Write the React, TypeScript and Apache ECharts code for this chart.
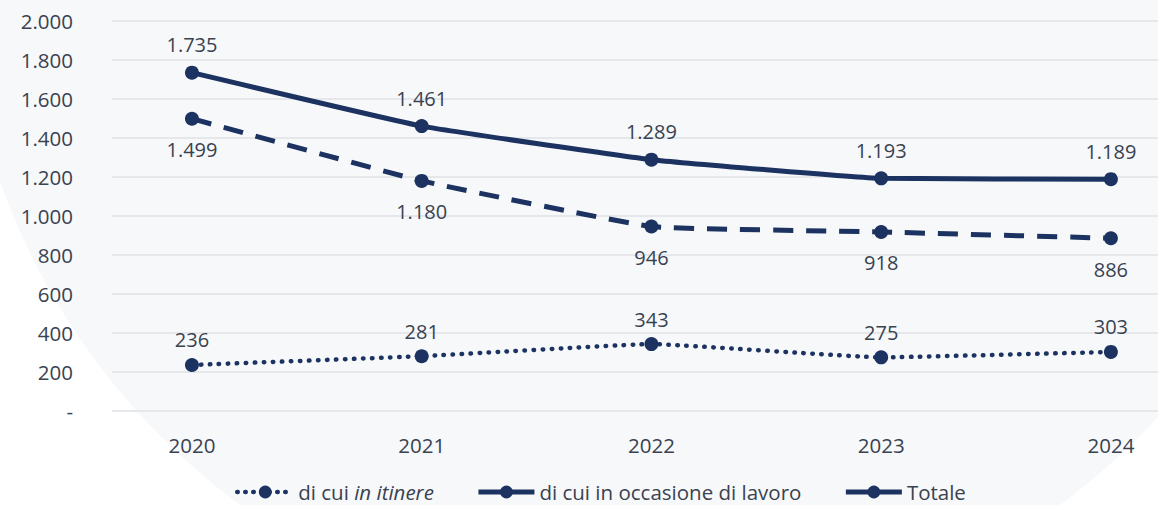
import React, { useEffect, useRef } from "react";
import * as echarts from "echarts";

const years = [2020, 2021, 2022, 2023, 2024];
const totale = [1735, 1461, 1289, 1193, 1189];
const lavoro = [1499, 1180, 946, 918, 886];
const itinere = [236, 281, 343, 275, 303];
const yTicks = { min: 0, max: 2000, interval: 200 };

const NAVY = "#1c3260";
const TEXT = "#394250";
const FONT = "'Open Sans', 'Noto Sans', sans-serif";
const FW = 500;

const fmt = (v: number) =>
  v === 0 ? "-" : String(Math.round(v)).replace(/\B(?=(\d{3})+(?!\d))/g, ".");

const pairs = (vals: number[]) => years.map((y, i) => [y, vals[i]]);

export default function App() {
  const ref = useRef<HTMLDivElement>(null);
  useEffect(() => {
    if (!ref.current) return;
    const chart = echarts.init(ref.current, null, { renderer: "svg" });
    const labelBase = {
      show: true,
      color: TEXT,
      fontFamily: FONT,
      fontSize: 20,
      fontWeight: FW,
      formatter: (p: any) => fmt(p.value[1]),
    };
    const dotted = { color: NAVY, width: 4.5, type: [0.5, 8.5], cap: "round" };
    const dashed = { color: NAVY, width: 5, type: [20, 13] };
    const solid = { color: NAVY, width: 5 };
    chart.setOption({
      animation: false,
      backgroundColor: "#ffffff",
      graphic: [
        {
          type: "circle",
          z: -10,
          silent: true,
          shape: { cx: 650, cy: -50, r: 690 },
          style: { fill: "#f7f8fa" },
        },
      ],
      grid: { left: 112, right: 0, top: 21, bottom: 94 },
      legend: {
        left: 230,
        top: 476,
        padding: 5,
        itemWidth: 56,
        itemHeight: 16,
        itemGap: 42,
        textStyle: {
          color: TEXT,
          fontFamily: FONT,
          fontSize: 20.5,
          lineHeight: 22,
          rich: {
            n: { color: TEXT, fontFamily: FONT, fontSize: 20.5, lineHeight: 22 },
            i: { color: TEXT, fontFamily: FONT, fontSize: 20.5, lineHeight: 22, fontStyle: "italic" },
          },
        },
        formatter: (name: string) =>
          name === "di cui in itinere" ? "{n|di cui }{i|in itinere}" : "{n|" + name + "}",
        data: [
          { name: "di cui in itinere", lineStyle: { ...dotted, type: [0.5, 7.5] } },
          { name: "di cui in occasione di lavoro", lineStyle: { ...dashed, type: "solid" } },
          { name: "Totale", lineStyle: solid },
        ],
      },
      xAxis: {
        type: "value",
        min: 2019.652,
        max: 2024.205,
        axisLine: { show: false },
        axisTick: { show: false },
        splitLine: { show: false },
        axisLabel: {
          customValues: years,
          color: TEXT,
          fontFamily: FONT,
          fontSize: 20.5,
          fontWeight: FW,
          margin: 23,
          formatter: (v: number) => String(v),
        },
      },
      yAxis: {
        type: "value",
        min: yTicks.min,
        max: yTicks.max,
        interval: yTicks.interval,
        axisLine: { show: false },
        axisTick: { show: false },
        splitLine: { lineStyle: { color: "#e6e7eb", width: 2 } },
        axisLabel: {
          color: TEXT,
          fontFamily: FONT,
          fontSize: 20.5,
          fontWeight: FW,
          margin: 39,
          formatter: (v: number) => fmt(v),
        },
      },
      series: [
        {
          name: "di cui in itinere",
          type: "line",
          data: pairs(itinere),
          smooth: 0.1,
          symbol: "circle",
          symbolSize: 14,
          itemStyle: { color: NAVY },
          lineStyle: dotted,
          label: { ...labelBase, position: "top", distance: 8 },
        },
        {
          name: "di cui in occasione di lavoro",
          type: "line",
          data: pairs(lavoro),
          smooth: 0.1,
          symbol: "circle",
          symbolSize: 14,
          itemStyle: { color: NAVY },
          lineStyle: dashed,
          label: { ...labelBase, position: "bottom", distance: 14 },
        },
        {
          name: "Totale",
          type: "line",
          data: pairs(totale),
          smooth: 0.1,
          symbol: "circle",
          symbolSize: 14,
          itemStyle: { color: NAVY },
          lineStyle: solid,
          label: { ...labelBase, position: "top", distance: 11 },
        },
      ],
    });
    return () => chart.dispose();
  }, []);
  return (
    <div
      ref={ref}
      style={{ position: "fixed", left: 0, top: 0, width: 1158, height: 505 }}
    />
  );
}
